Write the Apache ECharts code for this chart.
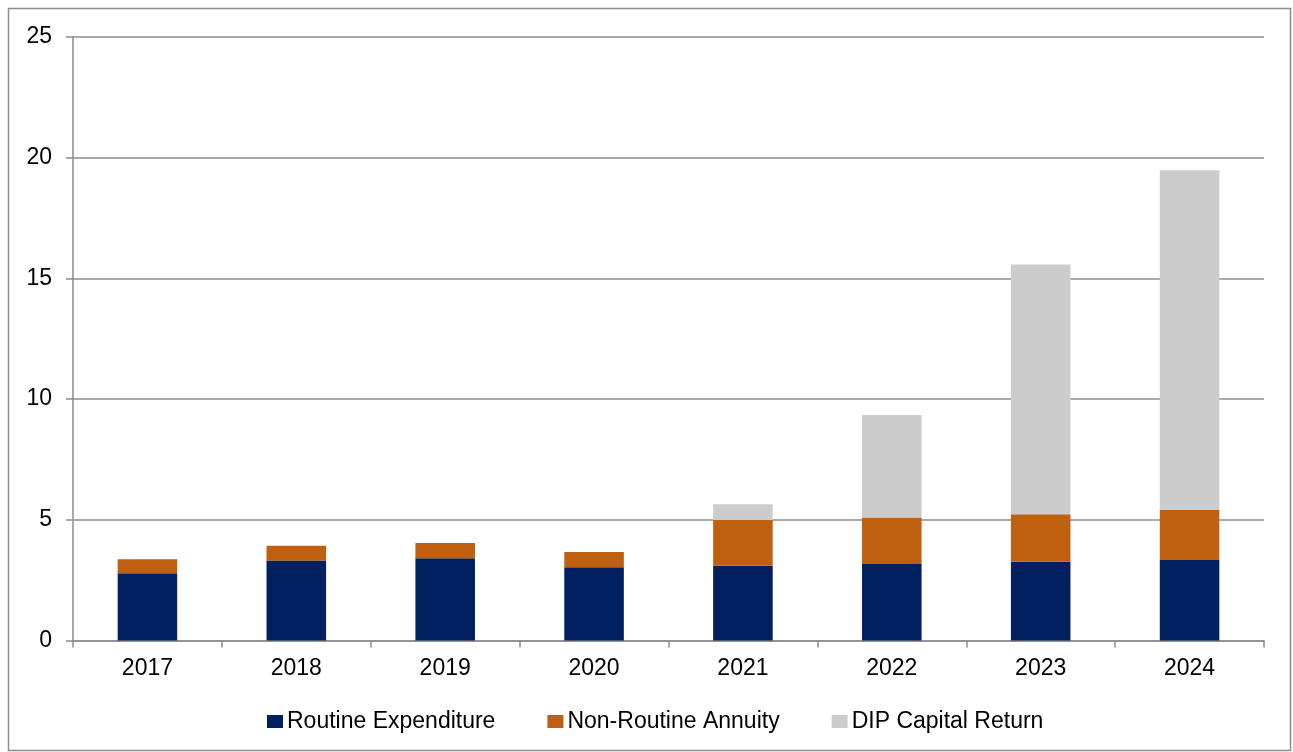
<!DOCTYPE html>
<html>
<head>
<meta charset="utf-8">
<script src="https://cdn.jsdelivr.net/npm/echarts@6/dist/echarts.min.js"></script>
<style>
html,body{margin:0;padding:0;background:#fff;}
#chart{width:1293px;height:752px;}
</style>
</head>
<body>
<div id="chart"></div>
<script>
const categories = ['2017','2018','2019','2020','2021','2022','2023','2024'];
const routineExpenditure = [2.79, 3.31, 3.41, 3.03, 3.10, 3.17, 3.26, 3.33];
const nonRoutineAnnuity = [0.58, 0.62, 0.63, 0.64, 1.89, 1.93, 1.97, 2.09];
const dipCapitalReturn = [0, 0, 0, 0, 0.65, 4.24, 10.35, 14.06];
const seriesNames = ['Routine Expenditure', 'Non-Routine Annuity', 'DIP Capital Return'];
const colors = ['#002060', '#BE600F', '#CCCCCC'];

const chart = echarts.init(document.getElementById('chart'));
const axisGray = '#8C8C8C';
const font = 'Liberation Sans, Arial, sans-serif';
function bar(name, data, color) {
  return {
    name: name, type: 'bar', stack: 'total', data: data,
    barWidth: '40%',
    itemStyle: { color: color },
    emphasis: { disabled: true }
  };
}
chart.setOption({
  animation: false,
  color: colors,
  graphic: [{
    type: 'rect', silent: true,
    shape: { x: 8.5, y: 8.5, width: 1282, height: 742 },
    style: { fill: 'none', stroke: axisGray, lineWidth: 1.5 }
  }],
  grid: { left: 73, right: 29, top: 37, bottom: 111.5, containLabel: false },
  legend: {
    top: 705,
    left: 262,
    itemWidth: 16, itemHeight: 13, itemGap: 52,
    icon: 'rect',
    textStyle: { fontFamily: font, fontSize: 23, color: '#000', padding: [0,0,0,-1] },
    data: seriesNames
  },
  xAxis: {
    type: 'category',
    data: categories,
    axisLine: { lineStyle: { color: axisGray, width: 1.5 } },
    axisTick: { show: true, length: 7, alignWithLabel: false, lineStyle: { color: axisGray, width: 1.5 } },
    axisLabel: { color: '#000', fontFamily: font, fontSize: 23, margin: 17 }
  },
  yAxis: {
    type: 'value',
    min: 0, max: 25, interval: 5,
    axisLine: { show: true, lineStyle: { color: axisGray, width: 1.5 } },
    axisTick: { show: true, length: 7, lineStyle: { color: axisGray, width: 1.5 } },
    axisLabel: { color: '#000', fontFamily: font, fontSize: 23, margin: 21 },
    splitLine: { show: true, lineStyle: { color: axisGray, width: 1.5 } }
  },
  series: [
    bar(seriesNames[0], routineExpenditure, colors[0]),
    bar(seriesNames[1], nonRoutineAnnuity, colors[1]),
    bar(seriesNames[2], dipCapitalReturn, colors[2])
  ]
});
</script>
</body>
</html>
